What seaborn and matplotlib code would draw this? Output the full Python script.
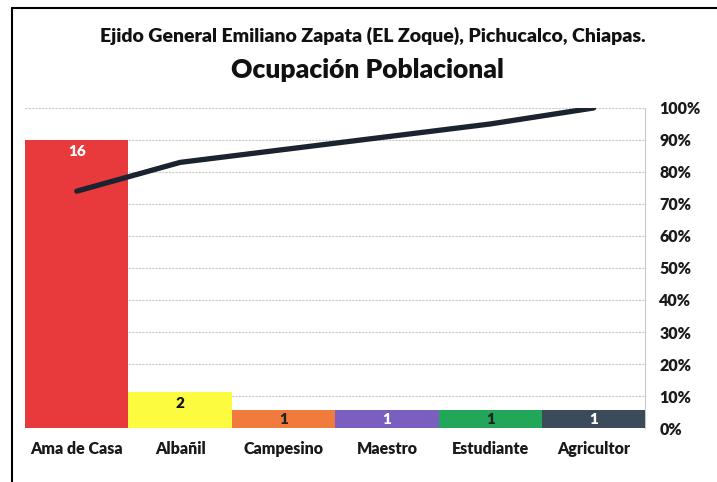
import numpy as np
import pandas as pd
import matplotlib
matplotlib.use("Agg")
import matplotlib.pyplot as plt
import seaborn as sns
from matplotlib.lines import Line2D

# data
ocupaciones = ["Ama de Casa", "Albañil", "Campesino", "Maestro", "Estudiante", "Agricultor"]
personas = [16, 2, 1, 1, 1, 1]
acumulado = [0.74, 0.83, 0.87, 0.91, 0.95, 1.00]
colores = ["#e83a3c", "#fdfb3f", "#f07b3c", "#7a5ec0", "#22a65a", "#3b4b59"]
color_etiqueta = ["white", "#111111", "#222222", "white", "#222222", "white"]
pct_ticks = np.arange(0, 1.01, 0.1)

df = pd.DataFrame({"ocupacion": ocupaciones, "personas": personas, "acumulado": acumulado})

sns.set_theme(style="white")
plt.rcParams["font.family"] = ["Lato", "DejaVu Sans"]
plt.rcParams["font.weight"] = "bold"

fig = plt.figure(figsize=(7.17, 4.82), dpi=100)
ax = fig.add_axes([0.035, 0.112, 0.865, 0.664])

sns.barplot(data=df, x="ocupacion", y="personas", hue="ocupacion", palette=colores,
            width=1.0, legend=False, ax=ax, saturation=1, linewidth=0)
ax.set_ylim(0, 17.8)
ax.set_xlim(-0.5, 5.5)
ax.set_yticks([])
ax.set_xlabel("")
ax.set_ylabel("")
ax.set_xticks(range(len(ocupaciones)))
ax.set_xticklabels(ocupaciones, fontsize=11.5, fontweight="heavy", color="#1a1a1a")
ax.tick_params(axis="x", length=0, pad=9)

# value labels inside the top of each bar
for i, (v, c) in enumerate(zip(personas, color_etiqueta)):
    y = v - 0.25 if v > 1 else v / 2
    ax.text(i, y, str(v), ha="center", va="top" if v > 1 else "center",
            fontsize=11, fontweight="heavy", color=c)

# percentage axis with gridlines, behind the bars
ax2 = ax.twinx()
ax2.set_zorder(ax.get_zorder() - 1)
ax.patch.set_visible(False)
ax2.set_ylim(0, 1.0)
ax2.set_yticks(pct_ticks)
ax2.set_yticklabels([f"{int(round(t * 100))}%" for t in pct_ticks],
                    fontsize=11.5, fontweight="heavy", color="#1a1a1a")
ax2.grid(axis="y", color="#c8c8c8", linewidth=0.8, linestyle=(0, (2, 1)))
ax2.tick_params(axis="y", length=0, pad=10)

# cumulative line above the bars
ax3 = ax.twinx()
ax3.set_ylim(0, 1.0)
ax3.set_yticks([])
sns.lineplot(data=df, x="ocupacion", y="acumulado", ax=ax3, color="#1b2230",
             linewidth=3.8, sort=False)
ax3.set_xlim(-0.5, 5.5)
ax3.set_ylabel("")

for a in (ax, ax2, ax3):
    for s in ("left", "top", "bottom", "right"):
        a.spines[s].set_visible(False)
ax2.spines["right"].set_visible(True)
ax2.spines["right"].set_color("#c8c8c8")
ax2.spines["right"].set_linewidth(0.8)
ax2.set_ylabel("")

fig.text(0.52, 0.925, "Ejido General Emiliano Zapata (EL Zoque), Pichucalco, Chiapas.",
         ha="center", va="center", fontsize=14, fontweight="heavy", color="#111111")
fig.text(0.513, 0.855, "Ocupación Poblacional", ha="center", va="center",
         fontsize=19, fontweight="heavy", color="#111111")

# frame lines at left and top of the scanned figure
fig.add_artist(Line2D([12 / 717, 12 / 717], [0, 1 - 8 / 482], color="black", linewidth=1.5))
fig.add_artist(Line2D([12 / 717, 1], [1 - 8 / 482, 1 - 8 / 482], color="black", linewidth=1.5))

fig.savefig("out.png", dpi=100)
